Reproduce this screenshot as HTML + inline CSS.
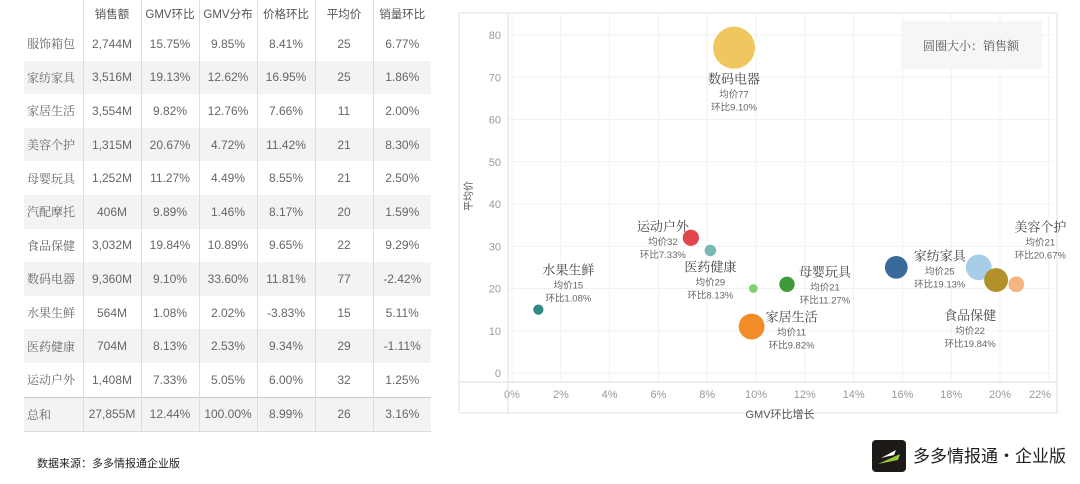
<!DOCTYPE html>
<html><head><meta charset="utf-8">
<style>
body{margin:0;width:1080px;height:484px;background:#fff;font-family:"Liberation Sans","Noto Sans CJK SC",sans-serif;overflow:hidden;position:relative}
table{position:absolute;left:24px;top:0;border-collapse:collapse;font-size:12px;color:#666}
td,th{height:33.6px;padding:0;text-align:center;border-left:1px solid #ddd;font-weight:normal}
th{height:27px;font-size:11.5px;color:#555}
td:first-child,th:first-child{border-left:none;text-align:left;padding-left:3px;font-family:"Noto Serif CJK SC",serif;font-size:12px;color:#666}
tr.g td{background:#f3f3f3}
tr.tot td{border-top:1px solid #ccc;border-bottom:1px solid #ddd}
#src{position:absolute;left:37px;top:455px;font-size:11px;color:#222;font-family:"Noto Sans CJK SC",sans-serif}
#logo{position:absolute;left:872px;top:440px;width:34px;height:32px;background:#1e1a17;border-radius:4px}
#brand{position:absolute;left:913px;top:442px;font-size:17px;color:#222;font-family:"Noto Sans CJK SC",sans-serif;white-space:nowrap}
</style></head><body>
<table>
<colgroup><col style="width:59px"><col style="width:58px"><col style="width:58px"><col style="width:58px"><col style="width:58px"><col style="width:58px"><col style="width:58px"></colgroup>
<tr><th></th><th>销售额</th><th>GMV环比</th><th>GMV分布</th><th>价格环比</th><th>平均价</th><th>销量环比</th></tr>
<tr><td>服饰箱包</td><td>2,744M</td><td>15.75%</td><td>9.85%</td><td>8.41%</td><td>25</td><td>6.77%</td></tr>
<tr class="g"><td>家纺家具</td><td>3,516M</td><td>19.13%</td><td>12.62%</td><td>16.95%</td><td>25</td><td>1.86%</td></tr>
<tr><td>家居生活</td><td>3,554M</td><td>9.82%</td><td>12.76%</td><td>7.66%</td><td>11</td><td>2.00%</td></tr>
<tr class="g"><td>美容个护</td><td>1,315M</td><td>20.67%</td><td>4.72%</td><td>11.42%</td><td>21</td><td>8.30%</td></tr>
<tr><td>母婴玩具</td><td>1,252M</td><td>11.27%</td><td>4.49%</td><td>8.55%</td><td>21</td><td>2.50%</td></tr>
<tr class="g"><td>汽配摩托</td><td>406M</td><td>9.89%</td><td>1.46%</td><td>8.17%</td><td>20</td><td>1.59%</td></tr>
<tr><td>食品保健</td><td>3,032M</td><td>19.84%</td><td>10.89%</td><td>9.65%</td><td>22</td><td>9.29%</td></tr>
<tr class="g"><td>数码电器</td><td>9,360M</td><td>9.10%</td><td>33.60%</td><td>11.81%</td><td>77</td><td>-2.42%</td></tr>
<tr><td>水果生鲜</td><td>564M</td><td>1.08%</td><td>2.02%</td><td>-3.83%</td><td>15</td><td>5.11%</td></tr>
<tr class="g"><td>医药健康</td><td>704M</td><td>8.13%</td><td>2.53%</td><td>9.34%</td><td>29</td><td>-1.11%</td></tr>
<tr><td>运动户外</td><td>1,408M</td><td>7.33%</td><td>5.05%</td><td>6.00%</td><td>32</td><td>1.25%</td></tr>
<tr class="g tot"><td>总和</td><td>27,855M</td><td>12.44%</td><td>100.00%</td><td>8.99%</td><td>26</td><td>3.16%</td></tr>
</table>
<div id="src">数据来源：多多情报通企业版</div>
<div id="logo"><svg width="34" height="32"><path d="M6 24 L28 14 L26 20 Z" fill="#9bc53d"/><path d="M9 18 L24 10 L22 15 Z" fill="#fff"/></svg></div>
<div id="brand">多多情报通·企业版</div>
<svg id="chart" width="1080" height="484" style="position:absolute;left:0;top:0"></svg>
<script>
const names=["服饰箱包","家纺家具","家居生活","美容个护","母婴玩具","汽配摩托","食品保健","数码电器","水果生鲜","医药健康","运动户外"];
const gmvGrowth=[15.75,19.13,9.82,20.67,11.27,9.89,19.84,9.10,1.08,8.13,7.33];
const avgPrice=[25,25,11,21,21,20,22,77,15,29,32];
const sales=[2744,3516,3554,1315,1252,406,3032,9360,564,704,1408];
const colors=["#3a6a9c","#a7cde9","#f28c28","#f8b47f","#3f9b3a","#7ed36f","#b2912a","#efc75e","#2f8a83","#79b9b4","#e0474c"];
const labeled=[false,true,true,true,true,false,true,true,true,true,true];
const xTicks=[0,2,4,6,8,10,12,14,16,18,20,22];
const yTicks=[0,10,20,30,40,50,60,70,80];
const NS="http://www.w3.org/2000/svg";
const svg=document.getElementById("chart");
const X=v=>512+v*24.4;
const Y=v=>373-v*(373-35)/80;
const R=s=>21*Math.sqrt(s/9360);
function mk(t,a,p){const e=document.createElementNS(NS,t);for(const k in a)e.setAttribute(k,a[k]);(p||svg).appendChild(e);return e;}
const panel=mk("rect",{x:459,y:13,width:598,height:400,fill:"#fff",stroke:"#e2e2e2"});


xTicks.forEach(t=>{const l=mk("line",{x1:X(t),x2:X(t),y1:14,y2:382,stroke:"#f1f1f1"});


const tx=mk("text",{x:Math.min(X(t),1040),y:398,"text-anchor":"middle","font-size":11,fill:"#999"});tx.textContent=t+"%";

});
yTicks.forEach(t=>{const l=mk("line",{x1:508,x2:1053,y1:Y(t),y2:Y(t),stroke:"#f1f1f1"});


const tx=mk("text",{x:501,y:Y(t)+4,"text-anchor":"end","font-size":11,fill:"#999"});tx.textContent=t;

});
const ax=mk("line",{x1:459,x2:1057,y1:382,y2:382,stroke:"#ddd"});


const ay=mk("line",{x1:508,x2:508,y1:14,y2:413,stroke:"#ddd"});


const xt=mk("text",{x:780,y:418,"text-anchor":"middle","font-size":11,fill:"#555"});xt.textContent="GMV环比增长";


const yt=mk("text",{x:472,y:196,"text-anchor":"middle","font-size":10,fill:"#555",transform:"rotate(-90 472 196)"});yt.textContent="平均价";


const lb=mk("rect",{x:901,y:21,width:141,height:48,fill:"#f6f6f6"});


const lt=mk("text",{x:971,y:50,"text-anchor":"middle","font-size":12,fill:"#555","font-family":"Noto Serif CJK SC,serif"});lt.textContent="圆圈大小：销售额";


const off={"家纺家具":[-39,-7],"家居生活":[40,-5],"美容个护":[24,-53],"母婴玩具":[38,-8],"食品保健":[-26,40],"数码电器":[0,36],"水果生鲜":[30,-35],"医药健康":[0,21],"运动户外":[-28,-7]};
names.forEach((n,i)=>{
  const c=mk("circle",{cx:X(gmvGrowth[i]),cy:Y(avgPrice[i]),r:R(sales[i]),fill:colors[i]});
  
  
  if(!labeled[i])return;
  const o=off[n]||[0,-20];const lx=X(gmvGrowth[i])+o[0],ly=Y(avgPrice[i])+o[1];
  const g=mk("g",{});
  
  
  const t1=mk("text",{x:lx,y:ly,"text-anchor":"middle","font-size":13,fill:"#444","font-family":"Noto Serif CJK SC,serif"},g);t1.textContent=n;
  const t2=mk("text",{x:lx,y:ly+14,"text-anchor":"middle","font-size":9.5,fill:"#666"},g);t2.textContent="均价"+avgPrice[i];
  const t3=mk("text",{x:lx,y:ly+27,"text-anchor":"middle","font-size":9.5,fill:"#666"},g);t3.textContent="环比"+gmvGrowth[i].toFixed(2)+"%";
});
</script>
</body></html>
